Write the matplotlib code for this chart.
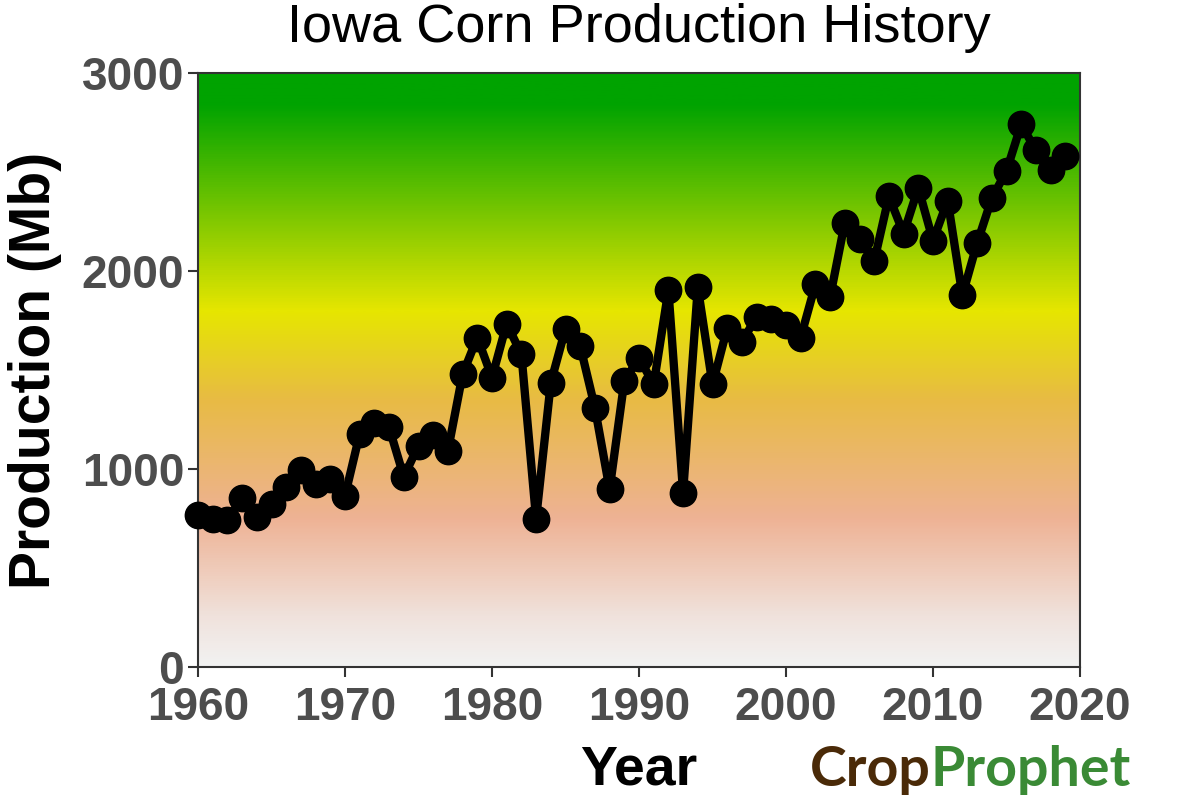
import numpy as np
import matplotlib
matplotlib.use("Agg")
import matplotlib.pyplot as plt
from matplotlib.colors import LinearSegmentedColormap

years = list(range(1960, 2020))
production = [770, 750, 740, 856, 760, 821, 907, 993, 922, 948,
              865, 1177, 1230, 1210, 961, 1118, 1170, 1092, 1478, 1664,
              1462, 1734, 1580, 748, 1436, 1708, 1621, 1310, 897, 1443,
              1562, 1427, 1903, 881, 1917, 1427, 1711, 1642, 1769, 1758,
              1728, 1664, 1932, 1868, 2244, 2163, 2050, 2377, 2189, 2420,
              2153, 2356, 1877, 2140, 2367, 2505, 2740, 2610, 2510, 2580]

# background gradient stops (value, colour)
grad_values = [0, 250, 750, 1350, 1800, 2850, 3000]
grad_colors = ["#f2f2f2", "#f0e2dc", "#eeb294", "#e8bb44", "#e6e600", "#00a300", "#00a300"]

plt.rcParams['font.family'] = ['Liberation Sans', 'DejaVu Sans']

fig = plt.figure(figsize=(12, 8), dpi=100)
ax = fig.add_axes([0.165, 0.16625, 0.735, 0.7425])

stops = [v / 3000 for v in grad_values]
cmap = LinearSegmentedColormap.from_list("bg", list(zip(stops, grad_colors)))
grad = np.linspace(0, 1, 600).reshape(-1, 1)
ax.imshow(grad, cmap=cmap, aspect='auto', origin='lower',
          extent=[1960, 2020, 0, 3000], zorder=0)

ax.plot(years, production, color='black', lw=6, marker='o', ms=19,
        zorder=3, clip_on=False)

ax.set_xlim(1960, 2020)
ax.set_ylim(0, 3000)
ax.set_xticks(range(1960, 2021, 10))
ax.set_yticks([0, 1000, 2000, 3000])

for s in ax.spines.values():
    s.set_color('#333333')
    s.set_linewidth(1.5)
ax.tick_params(colors='#333333', width=1.5, length=7,
               labelsize=33, labelcolor='#4d4d4d')
ax.tick_params(axis='x', pad=7)
ax.tick_params(axis='y', pad=3)
for lab in ax.get_xticklabels() + ax.get_yticklabels():
    lab.set_fontweight('bold')

ax.set_title("Iowa Corn Production History", fontsize=39, pad=22)
ax.set_xlabel("Year", fontsize=40, fontweight='bold', labelpad=10)
ax.set_ylabel("Production (Mb)", fontsize=41, fontweight='bold', labelpad=14)

# logo text, "Prophet" placed right after "Crop"
crop = fig.text(0.675, 0.017, "Crop", color='#4a2a08', fontsize=40,
                fontweight='bold', family='Lato', ha='left', va='baseline')
fig.canvas.draw()
bb = crop.get_window_extent().transformed(fig.transFigure.inverted())
fig.text(bb.x1, 0.017, "Prophet", color='#3a8a35', fontsize=40,
         fontweight='bold', family='Lato', ha='left', va='baseline')

fig.savefig("out.png", dpi=100)
